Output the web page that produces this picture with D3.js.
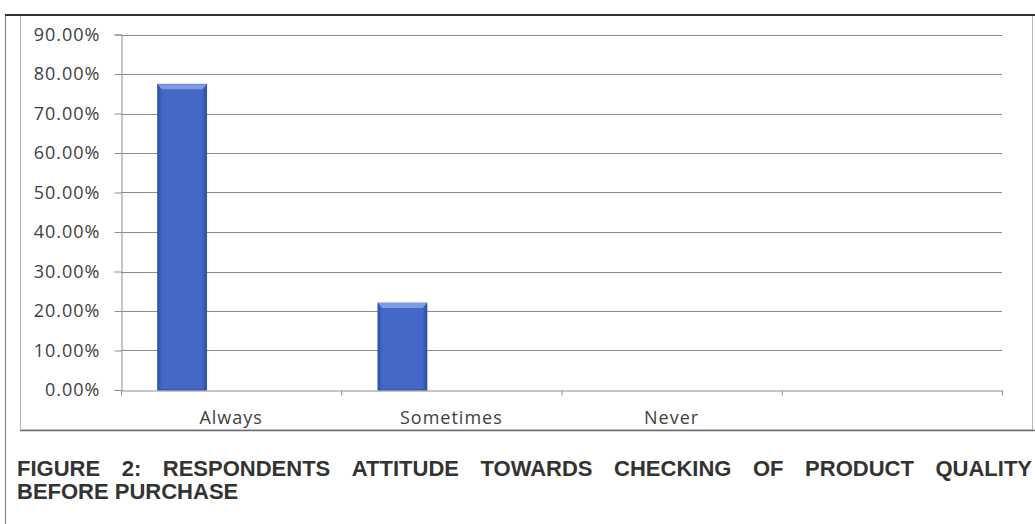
<!DOCTYPE html>
<html>
<head>
<meta charset="utf-8">
<script src="https://cdn.jsdelivr.net/npm/d3@7"></script>
<style>
  html, body { margin: 0; padding: 0; background: #fff; }
  svg { display: block; }
</style>
</head>
<body>
<svg id="chart" width="1035" height="524"></svg>
<script>
// Share of respondents by how often they check product quality before purchase
const categories = ["Always", "Sometimes", "Never", ""];
const seriesSlots = ["s1", "s2", "s3"];
const checkShare = [0.774, 0.22, 0, null];
const yTicks = [0, 0.1, 0.2, 0.3, 0.4, 0.5, 0.6, 0.7, 0.8, 0.9];
const titleLine1 = "FIGURE 2: RESPONDENTS ATTITUDE TOWARDS CHECKING OF PRODUCT QUALITY";
const titleLine2 = "BEFORE PURCHASE";

const svg = d3.select("#chart");

// page frame and chart box
svg.append("line").attr("x1", 5.5).attr("x2", 5.5).attr("y1", 14).attr("y2", 524)
  .attr("stroke", "#8a8a8a").attr("stroke-width", 1.2);
svg.append("rect").attr("x", 20.5).attr("y", 15).attr("width", 1012).attr("height", 415)
  .attr("fill", "#fff").attr("stroke", "#b5b5b5").attr("stroke-width", 1);
svg.append("line").attr("x1", 20).attr("x2", 1035).attr("y1", 430.5).attr("y2", 430.5)
  .attr("stroke", "#6e6e78").attr("stroke-width", 1.6);
svg.append("line").attr("x1", 5).attr("x2", 1035).attr("y1", 15).attr("y2", 15)
  .attr("stroke", "#2f2f38").attr("stroke-width", 2);

const x = d3.scaleBand().domain(categories).range([121, 1002]).padding(0);
const slot = d3.scaleBand().domain(seriesSlots).range([0, x.bandwidth()])
  .paddingInner(0).paddingOuter(0.75);
const y = d3.scaleLinear().domain([0, 0.9]).range([390, 34.5]);

const fontAxis = "'Open Sans', 'Noto Sans', sans-serif";

// horizontal gridlines
svg.append("g").selectAll("line").data(yTicks.filter(d => d > 0)).join("line")
  .attr("x1", 121).attr("x2", 1002)
  .attr("y1", d => Math.round(y(d)) + 0.5).attr("y2", d => Math.round(y(d)) + 0.5)
  .attr("stroke", "#8c8c8c").attr("stroke-width", 1);

// y axis
const yAxis = svg.append("g").attr("transform", "translate(121.5,0)")
  .call(d3.axisLeft(y).tickValues(yTicks).tickFormat(d3.format(".2%"))
    .tickSize(7).tickPadding(14));
yAxis.select(".domain").attr("stroke", "#8c8c8c");
yAxis.selectAll(".tick line").attr("stroke", "#8c8c8c");
yAxis.selectAll(".tick text")
  .attr("font-family", fontAxis).attr("font-size", 18).attr("letter-spacing", 1)
  .attr("fill", "#404040");

// x axis
const xAxis = svg.append("g").attr("transform", "translate(0,390.5)")
  .call(d3.axisBottom(x).tickSize(0).tickPadding(21));
xAxis.select(".domain").attr("stroke", "#8c8c8c");
xAxis.selectAll(".tick text")
  .attr("font-family", fontAxis).attr("font-size", 18).attr("letter-spacing", 1)
  .attr("fill", "#404040");
// category boundary tick marks
xAxis.append("g").selectAll("line")
  .data(categories.map(c => x(c)).concat([x.range()[1]])).join("line")
  .attr("x1", d => d + 0.5).attr("x2", d => d + 0.5).attr("y1", 0).attr("y2", 5)
  .attr("stroke", "#8c8c8c");

// bars with a bevelled look
const defs = svg.append("defs");
const grad = defs.append("linearGradient").attr("id", "barFill")
  .attr("x1", 0).attr("x2", 1).attr("y1", 0).attr("y2", 0);
grad.append("stop").attr("offset", 0).attr("stop-color", "#2f53b0");
grad.append("stop").attr("offset", 0.1).attr("stop-color", "#4468c8");
grad.append("stop").attr("offset", 0.9).attr("stop-color", "#4468c8");
grad.append("stop").attr("offset", 1).attr("stop-color", "#2d4ea6");

const barData = categories.map((c, i) => ({ cat: c, value: checkShare[i] }))
  .filter(d => d.value != null && d.value > 0);
const bars = svg.append("g").selectAll("g").data(barData).join("g");
const bx = d => x(d.cat) + slot("s1");
bars.append("rect")
  .attr("x", bx).attr("y", d => y(d.value))
  .attr("width", slot.bandwidth()).attr("height", d => y(0) - y(d.value))
  .attr("fill", "url(#barFill)").attr("stroke", "#27449a").attr("stroke-width", 0.8);
bars.append("path")
  .attr("d", d => {
    const x0 = bx(d), x1 = x0 + slot.bandwidth(), t = y(d.value), h = 5;
    return `M${x0},${t}L${x1},${t}L${x1 - 4},${t + h}L${x0 + 4},${t + h}Z`;
  })
  .attr("fill", "#7d9ae3");

// caption, first line justified across the page
const fontTitle = "'Liberation Sans', Arial, sans-serif";
const titleSize = 22;
const words = titleLine1.split(" ");
const tmp = svg.append("g");
const widths = words.map(w => {
  const t = tmp.append("text").attr("font-family", fontTitle).attr("font-size", titleSize)
    .attr("font-weight", "bold").text(w);
  return t.node().getComputedTextLength();
});
tmp.remove();
const left = 17, right = 1032;
const gap = (right - left - d3.sum(widths)) / (words.length - 1);
let cx = left;
const cap = svg.append("g").attr("font-family", fontTitle).attr("font-size", titleSize)
  .attr("font-weight", "bold").attr("fill", "#333333");
words.forEach((w, i) => {
  cap.append("text").attr("x", cx).attr("y", 476).text(w);
  cx += widths[i] + gap;
});
cap.append("text").attr("x", left).attr("y", 499).text(titleLine2);
</script>
</body>
</html>
